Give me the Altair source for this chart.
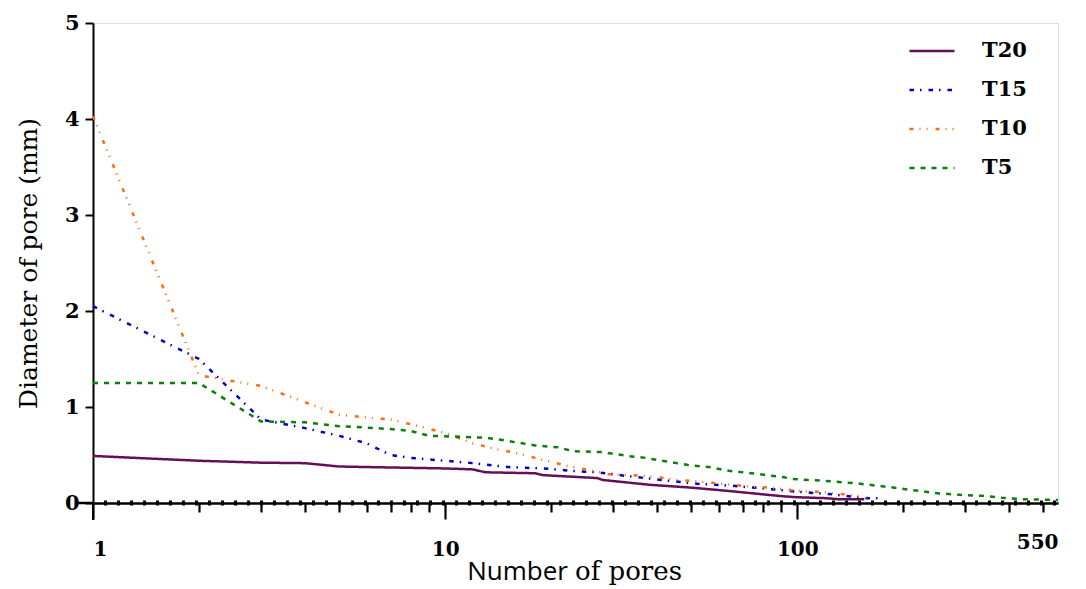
import altair as alt
import pandas as pd

series_names = ["T20", "T15", "T10", "T5"]
series_colors = ["#650f58", "#0000c8", "#ff6a10", "#0a800a"]
series_dashes = [[1, 0], [4.5, 6, 1.5, 7], [4, 6, 1, 6, 1, 8], [5, 6]]

t20_rank = [1, 2, 3, 4, 5, 7, 10, 12, 13, 18, 19, 24, 27, 28, 38, 50, 64, 80, 91, 100, 121, 130, 155]
t20_diam = [0.49, 0.44, 0.42, 0.415, 0.38, 0.37, 0.36, 0.35, 0.32, 0.31, 0.29, 0.27, 0.26, 0.24,
            0.19, 0.16, 0.125, 0.09, 0.07, 0.06, 0.05, 0.04, 0.04]

t15_rank = [1, 2, 3, 4, 5, 6, 7, 8, 10, 12, 15, 19, 23, 27, 33, 41, 52, 65, 81, 102, 126, 155, 174]
t15_diam = [2.05, 1.50, 0.87, 0.78, 0.70, 0.62, 0.50, 0.47, 0.44, 0.415, 0.375, 0.36, 0.335, 0.32,
            0.28, 0.24, 0.20, 0.18, 0.15, 0.115, 0.09, 0.05, 0.05]

t10_rank = [1, 2, 3, 4, 5, 6, 7, 8, 10, 12, 14, 16, 18, 22, 25, 29, 34, 40, 46, 54, 63, 74, 87,
            100, 117, 136, 158]
t10_diam = [4.03, 1.33, 1.22, 1.05, 0.92, 0.89, 0.87, 0.82, 0.73, 0.62, 0.56, 0.52, 0.47, 0.39,
            0.35, 0.30, 0.29, 0.27, 0.24, 0.22, 0.195, 0.17, 0.155, 0.125, 0.115, 0.09, 0.06]

t5_rank = [1, 2, 3, 4, 5, 6, 7, 8, 9, 11, 13, 14, 16, 18, 21, 23, 28, 33, 37, 43, 49, 56, 64, 74,
           91, 97, 120, 147, 169, 193, 222, 253, 290, 333, 381, 436, 497, 550]
t5_diam = [1.25, 1.25, 0.85, 0.84, 0.80, 0.785, 0.77, 0.75, 0.70, 0.69, 0.68, 0.665, 0.63, 0.60,
           0.58, 0.54, 0.53, 0.49, 0.47, 0.43, 0.395, 0.375, 0.335, 0.31, 0.27, 0.25, 0.23, 0.205,
           0.18, 0.155, 0.125, 0.10, 0.085, 0.075, 0.055, 0.04, 0.035, 0.03]

x_tick_values = [1, 2, 3, 4, 5, 6, 7, 8, 9, 10, 20, 30, 40, 50, 60, 70, 80, 90,
                 100, 200, 300, 400, 500, 550]
x_label_values = [1, 10, 100, 550]
y_tick_values = [0, 1, 2, 3, 4, 5]

rows = []
for name, rk, dm in [("T20", t20_rank, t20_diam), ("T15", t15_rank, t15_diam),
                     ("T10", t10_rank, t10_diam), ("T5", t5_rank, t5_diam)]:
    for i, (r, d) in enumerate(zip(rk, dm)):
        rows.append({"series": name, "rank": r, "diam": d, "order": i})
df = pd.DataFrame(rows)

SERIF = "DejaVu Serif"

major_test = "datum.value == 1 || datum.value == 10 || datum.value == 100"
label_test = " || ".join(f"datum.value == {v}" for v in x_label_values)

x_enc = alt.X(
    "rank:Q",
    scale=alt.Scale(type="log", domain=[1, 550], nice=False),
    axis=alt.Axis(
        values=x_tick_values,
        title=None,
        labelExpr=f"({label_test}) ? format(datum.value, 'd') : ''",
        labelOverlap=False,
        labelFont=SERIF, labelFontWeight="bold", labelFontSize=20, labelColor="black",
        labelPadding=20,
        tickSize={"condition": {"test": major_test, "value": 16}, "value": 9},
        tickOpacity={"condition": {"test": "datum.value == 550", "value": 0}, "value": 1},
        tickWidth=2.2, tickColor="black",
        domainColor="black", domainWidth=2.5,
        grid=False,
    ),
)

y_enc = alt.Y(
    "diam:Q",
    scale=alt.Scale(domain=[0, 5], nice=False),
    axis=alt.Axis(
        values=y_tick_values,
        format="d",
        title="Diameter of pore (mm)",
        titleFont=SERIF, titleFontWeight="normal", titleFontSize=25, titleColor="black",
        titleX=-65, titleY=240, titleAngle=-90, titleAlign="center", titleBaseline="middle",
        labelFont=SERIF, labelFontWeight="bold", labelFontSize=21, labelColor="black",
        labelPadding=6,
        tickSize=8, tickWidth=2, tickColor="black",
        domainColor="black", domainWidth=2,
        grid=False,
    ),
)

legend_cfg = dict(
    title=None, orient="none", legendX=815, legendY=4,
    labelFont=SERIF, labelFontWeight="bold", labelFontSize=21, labelColor="black",
    labelOffset=26, rowPadding=5,
    symbolType="stroke", symbolSize=2025, symbolStrokeWidth=2.5,
)

lines = alt.Chart(df).mark_line(strokeWidth=2.5, clip=False).encode(
    x=x_enc,
    y=y_enc,
    color=alt.Color(
        "series:N",
        scale=alt.Scale(domain=series_names, range=series_colors),
        legend=alt.Legend(**legend_cfg),
    ),
    strokeDash=alt.StrokeDash(
        "series:N",
        scale=alt.Scale(domain=series_names, range=series_dashes),
        legend=alt.Legend(**legend_cfg),
    ),
    order="order:Q",
    detail="series:N",
)

axis_df = pd.DataFrame({"start": [1], "end": [550], "zero": [0]})

dots = alt.Chart(axis_df).mark_rule(
    color="black", strokeWidth=5, strokeDash=[3, 10], strokeDashOffset=2, strokeCap="butt"
).encode(
    x=alt.X("start:Q", scale=alt.Scale(type="log", domain=[1, 550], nice=False)),
    x2="end:Q",
    y=alt.Y("zero:Q", scale=alt.Scale(domain=[0, 5], nice=False)),
)

y_ext = alt.Chart(axis_df).mark_rule(color="black", strokeWidth=2).encode(
    x=alt.value(0), y=alt.value(480), y2=alt.value(497)
)
x_ext = alt.Chart(axis_df).mark_rule(color="black", strokeWidth=2.5).encode(
    x=alt.value(-16), x2=alt.value(0), y=alt.value(480)
)

title_a = alt.Chart(axis_df).mark_text(
    text="Number", font="Open Sans", fontSize=26, align="right", baseline="alphabetic", color="black"
).encode(x=alt.value(475), y=alt.value(557))
title_b = alt.Chart(axis_df).mark_text(
    text="of pores", font=SERIF, fontSize=26, align="left", baseline="alphabetic", color="black"
).encode(x=alt.value(482), y=alt.value(557))

chart = alt.layer(dots, y_ext, x_ext, lines, title_a, title_b).properties(
    width=965, height=480,
    autosize=alt.AutoSizeParams(type="none"),
    padding={"left": 85, "top": 15, "right": 20, "bottom": 84},
).configure_view(stroke=None).configure(background="white")

chart.save("out.html", embed_options={"renderer": "svg", "actions": False})
